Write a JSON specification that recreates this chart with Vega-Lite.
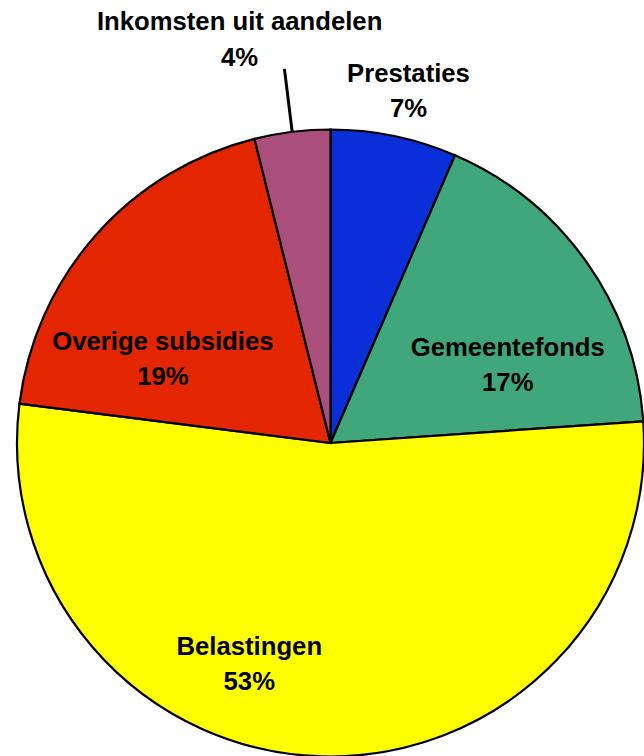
{
  "$schema": "https://vega.github.io/schema/vega-lite/v6.json",
  "width": 600,
  "height": 600,
  "autosize": "none",
  "padding": {"left": 30.5, "top": 143, "right": 13.5, "bottom": 13},
  "background": "white",
  "config": {"view": {"stroke": null}},
  "data": {
    "values": [
      {"category": "Prestaties", "value": 6.5, "label": "Prestaties\n7%", "ord": 1},
      {"category": "Gemeentefonds", "value": 17.4, "label": "Gemeentefonds\n17%", "ord": 2},
      {"category": "Belastingen", "value": 53.1, "label": "Belastingen\n53%", "ord": 3},
      {"category": "Overige subsidies", "value": 19.1, "label": "Overige subsidies\n19%", "ord": 4},
      {"category": "Inkomsten uit aandelen", "value": 3.9, "label": "Inkomsten uit aandelen\n4%", "ord": 5}
    ]
  },
  "encoding": {
    "theta": {"field": "value", "type": "quantitative", "stack": true},
    "order": {"field": "ord", "type": "quantitative"}
  },
  "layer": [
    {
      "mark": {"type": "arc", "radius": 313.5, "stroke": "black", "strokeWidth": 2.2},
      "encoding": {
        "color": {
          "field": "category",
          "type": "nominal",
          "scale": {
            "domain": ["Prestaties", "Gemeentefonds", "Belastingen", "Overige subsidies", "Inkomsten uit aandelen"],
            "range": ["#0A2FD8", "#3FA77B", "#FFFF00", "#E32500", "#AA4E7C"]
          },
          "legend": null
        }
      }
    },
    {
      "mark": {"type": "arc", "radius": 377, "radius2": 313.5, "padAngle": 1.5, "fill": "transparent", "strokeWidth": 3},
      "encoding": {
        "stroke": {
          "condition": {"test": "datum.category === 'Inkomsten uit aandelen'", "value": "black"},
          "value": "transparent"
        }
      }
    },
    {
      "mark": {"type": "text", "radius": 360, "dx": 5, "dy": -16, "fontSize": 25.7, "fontWeight": "bold", "font": "Liberation Sans", "lineBreak": "\n", "lineHeight": 35, "baseline": "middle", "align": "center", "color": "black"},
      "encoding": {"text": {"condition": {"test": "datum.category === 'Prestaties'", "field": "label"}, "value": ""}}
    },
    {
      "mark": {"type": "text", "radius": 200, "dx": 14, "dy": 21, "fontSize": 25.7, "fontWeight": "bold", "font": "Liberation Sans", "lineBreak": "\n", "lineHeight": 35, "baseline": "middle", "align": "center", "color": "black"},
      "encoding": {"text": {"condition": {"test": "datum.category === 'Gemeentefonds'", "field": "label"}, "value": ""}}
    },
    {
      "mark": {"type": "text", "radius": 220, "dx": -75, "dy": -16, "fontSize": 25.7, "fontWeight": "bold", "font": "Liberation Sans", "lineBreak": "\n", "lineHeight": 35, "baseline": "middle", "align": "center", "color": "black"},
      "encoding": {"text": {"condition": {"test": "datum.category === 'Belastingen'", "field": "label"}, "value": ""}}
    },
    {
      "mark": {"type": "text", "radius": 180, "dx": -33, "dy": 18, "fontSize": 25.7, "fontWeight": "bold", "font": "Liberation Sans", "lineBreak": "\n", "lineHeight": 35, "baseline": "middle", "align": "center", "color": "black"},
      "encoding": {"text": {"condition": {"test": "datum.category === 'Overige subsidies'", "field": "label"}, "value": ""}}
    },
    {
      "mark": {"type": "text", "radius": 400, "dx": -42, "dy": -24, "fontSize": 25.7, "fontWeight": "bold", "font": "Liberation Sans", "lineBreak": "\n", "lineHeight": 36, "baseline": "middle", "align": "center", "color": "black"},
      "encoding": {"text": {"condition": {"test": "datum.category === 'Inkomsten uit aandelen'", "field": "label"}, "value": ""}}
    }
  ]
}
